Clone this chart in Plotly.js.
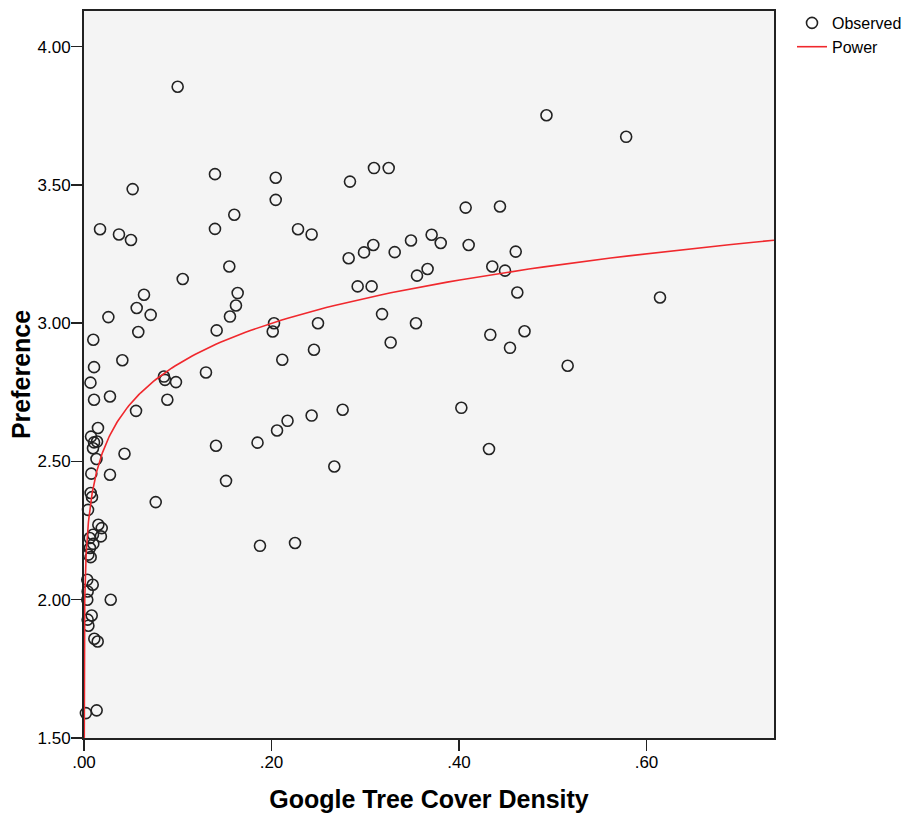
<!DOCTYPE html>
<html>
<head>
<meta charset="utf-8">
<script src="https://cdn.plot.ly/plotly-3.0.1.min.js"></script>
<style>
  html, body { margin: 0; padding: 0; background: #ffffff; }
  #chart { width: 912px; height: 814px; }
</style>
</head>
<body>
<div id="chart"></div>
<script>
// Observed data: Google Tree Cover Density (x) vs Preference (y)
const treeCoverDensity = [
  0.0020, 0.0135, 0.0110, 0.0146, 0.0082, 0.0039, 0.0047, 0.0035, 0.0285, 0.0035,
  0.0093, 0.0039, 0.0064, 0.0046, 0.0071, 0.0099, 0.0061, 0.0096, 0.0180, 0.0153,
  0.0189, 0.0043, 0.0071, 0.0085, 0.0078, 0.0277, 0.0133, 0.0432, 0.0075, 0.0107,
  0.0096, 0.0139, 0.0149, 0.0555, 0.0107, 0.0277, 0.0069, 0.0107, 0.0409, 0.0099,
  0.0260, 0.0579, 0.0562, 0.0711, 0.0640, 0.0171, 0.0373, 0.0501, 0.0519, 0.0999,
  0.1053, 0.0765, 0.0853, 0.0864, 0.0981, 0.0889, 0.1301, 0.1408, 0.1515, 0.1415,
  0.1397, 0.1397, 0.1603, 0.1550, 0.1639, 0.1621, 0.1557, 0.1877, 0.2251, 0.1851,
  0.2059, 0.2171, 0.2428, 0.2759, 0.2670, 0.2027, 0.2013, 0.2115, 0.2496, 0.2453,
  0.2045, 0.2045, 0.2283, 0.2428, 0.2823, 0.2837, 0.3093, 0.3250, 0.2919, 0.3068,
  0.2987, 0.3086, 0.3314, 0.3179, 0.3271, 0.3541, 0.3552, 0.3665, 0.3488, 0.3708,
  0.3805, 0.4071, 0.4103, 0.4025, 0.4320, 0.4334, 0.4355, 0.4491, 0.4437, 0.4605,
  0.4622, 0.4544, 0.4699, 0.4933, 0.5159, 0.5783, 0.6144
];
const preference = [
  1.590, 1.600, 1.859, 1.849, 1.943, 1.928, 1.906, 2.000, 2.000, 2.072,
  2.054, 2.030, 2.187, 2.163, 2.154, 2.202, 2.223, 2.235, 2.229, 2.271,
  2.259, 2.325, 2.386, 2.371, 2.456, 2.452, 2.509, 2.528, 2.590, 2.569,
  2.548, 2.572, 2.621, 2.683, 2.723, 2.735, 2.785, 2.841, 2.866, 2.940,
  3.022, 2.968, 3.055, 3.030, 3.103, 3.340, 3.321, 3.301, 3.485, 3.855,
  3.160, 2.353, 2.807, 2.795, 2.787, 2.723, 2.822, 2.557, 2.430, 2.974,
  3.539, 3.341, 3.392, 3.205, 3.109, 3.064, 3.024, 2.195, 2.205, 2.568,
  2.612, 2.647, 2.666, 2.687, 2.482, 3.000, 2.970, 2.868, 3.000, 2.904,
  3.526, 3.446, 3.340, 3.321, 3.235, 3.512, 3.561, 3.561, 3.133, 3.133,
  3.256, 3.283, 3.257, 3.033, 2.930, 3.000, 3.172, 3.196, 3.299, 3.320,
  3.290, 3.418, 3.283, 2.694, 2.545, 2.958, 3.205, 3.190, 3.422, 3.259,
  3.111, 2.911, 2.971, 3.752, 2.846, 3.674, 3.093
];

// Power model fit (y = a * x^b), parameters
const powerA = 3.375;
const powerB = 0.0732;

// Axis ticks
const xTickVals = [0, 0.2, 0.4, 0.6];
const xTickText = [".00", ".20", ".40", ".60"];
const yTickVals = [1.5, 2.0, 2.5, 3.0, 3.5, 4.0];
const yTickText = ["1.50", "2.00", "2.50", "3.00", "3.50", "4.00"];

const xRange = [0, 0.736];
const yRange = [1.5, 4.129];

// evaluation grid for the fitted curve (log-spaced to capture the steep start)
const curveX = [];
const curveY = [];
const nCurve = 400;
const lo = Math.log(1e-6), hi = Math.log(xRange[1]);
for (let i = 0; i <= nCurve; i++) {
  const xv = Math.exp(lo + (hi - lo) * i / nCurve);
  curveX.push(xv);
  curveY.push(powerA * Math.pow(xv, powerB));
}

const observed = {
  x: treeCoverDensity,
  y: preference,
  type: 'scatter',
  mode: 'markers',
  name: 'Observed',
  cliponaxis: false,
  marker: {
    symbol: 'circle-open',
    size: 11,
    color: '#222222',
    line: { width: 1.6, color: '#222222' }
  },
  hoverinfo: 'x+y'
};

const power = {
  x: curveX,
  y: curveY,
  type: 'scatter',
  mode: 'lines',
  name: 'Power',
  line: { color: '#f0282d', width: 1.6 },
  hoverinfo: 'skip'
};

const fontFam = '"Liberation Sans", Arial, Helvetica, sans-serif';

const layout = {
  width: 912,
  height: 814,
  margin: { l: 84, r: 138, t: 11, b: 76, pad: 0, autoexpand: false },
  paper_bgcolor: '#ffffff',
  plot_bgcolor: '#f4f4f4',
  font: { family: fontFam, size: 17, color: '#000000' },
  showlegend: true,
  legend: {
    xref: 'container', yref: 'container',
    x: 792 / 912, xanchor: 'left',
    y: 1 - 6 / 814, yanchor: 'top',
    bgcolor: 'rgba(0,0,0,0)',
    borderwidth: 0,
    font: { family: fontFam, size: 16, color: '#000000' },
    tracegroupgap: 0
  },
  xaxis: {
    range: xRange,
    tickmode: 'array',
    tickvals: xTickVals,
    ticktext: xTickText,
    ticks: 'outside',
    ticklen: 11,
    tickwidth: 1.5,
    tickcolor: '#222222',
    ticklabelstandoff: -3,
    showline: true,
    linecolor: '#222222',
    linewidth: 2,
    mirror: true,
    showgrid: false,
    zeroline: false,
    automargin: false,
    tickfont: { family: fontFam, size: 17, color: '#000000' },
    title: {
      text: 'Google Tree Cover Density',
      font: { family: fontFam, size: 25, color: '#000000', weight: 'bold' },
      standoff: 19
    }
  },
  yaxis: {
    range: yRange,
    tickmode: 'array',
    tickvals: yTickVals,
    ticktext: yTickText,
    ticks: 'outside',
    ticklen: 11,
    tickwidth: 1.5,
    tickcolor: '#222222',
    ticklabelstandoff: -3,
    showline: true,
    linecolor: '#222222',
    linewidth: 2,
    mirror: true,
    showgrid: false,
    zeroline: false,
    automargin: false,
    tickfont: { family: fontFam, size: 17, color: '#000000' },
    title: {
      text: 'Preference',
      font: { family: fontFam, size: 25, color: '#000000', weight: 'bold' },
      standoff: 0
    }
  }
};

Plotly.newPlot('chart', [observed, power], layout, { displayModeBar: false, staticPlot: true });
</script>
</body>
</html>
